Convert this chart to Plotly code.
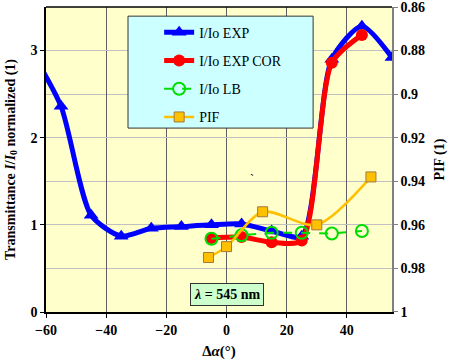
import plotly.graph_objects as go

# ---- data ----
exp_x = [-65, -55, -45, -35, -25, -15, -5, 5, 15, 25, 35, 45, 55]
exp_y = [3.0, 2.36, 1.11, 0.87, 0.96, 0.98, 1.0, 1.01, 0.93, 0.87, 2.9, 3.28, 2.92]

cor_x = [-5, 5, 15, 25, 35, 45]
cor_y = [0.85, 0.86, 0.80, 0.82, 2.86, 3.18]

lb_x = [-5, 5, 15, 25, 35, 45]
lb_y = [0.84, 0.88, 0.91, 0.91, 0.90, 0.93]

pif_x = [-6, 0, 12, 30, 48]
pif_y = [0.975, 0.970, 0.954, 0.960, 0.938]

x_ticks = [-60, -40, -20, 0, 20, 40]
y_ticks = [0, 1, 2, 3]
pif_ticks = [0.86, 0.88, 0.90, 0.92, 0.94, 0.96, 0.98, 1.0]
pif_labels = ["0.86", "0.88", "0.9", "0.92", "0.94", "0.96", "0.98", "1"]

FONT = "Liberation Serif, Times New Roman, serif"

fig = go.Figure()
fig.add_trace(go.Scatter(
    x=exp_x, y=exp_y, name="I/Io EXP", legendgroup="a", mode="lines+markers",
    line=dict(color="#0000FF", width=5, shape="spline", smoothing=0.7),
    marker=dict(symbol="triangle-up", size=13, color="#0000FF"),
))
fig.add_trace(go.Scatter(
    x=cor_x, y=cor_y, name="I/Io EXP COR", legendgroup="b", mode="lines+markers",
    line=dict(color="#FF0000", width=5, shape="spline", smoothing=0.7),
    marker=dict(symbol="circle", size=12, color="#FF0000"),
))
fig.add_trace(go.Scatter(
    x=lb_x, y=lb_y, name="I/Io LB", legendgroup="c", mode="lines+markers",
    line=dict(color="#00DD00", width=2, dash="dash"),
    marker=dict(symbol="circle-open", size=12, color="#00DD00", line=dict(width=2)),
))
fig.add_trace(go.Scatter(
    x=pif_x, y=pif_y, name="PIF", legendgroup="d", mode="lines+markers", yaxis="y2",
    line=dict(color="#FFC000", width=2.5, shape="spline", smoothing=0.8),
    marker=dict(symbol="square", size=10, color="#FFC000", line=dict(color="#A07840", width=1)),
))

fig.update_layout(
    width=449, height=360,
    margin=dict(l=46, r=57, t=7, b=48),
    paper_bgcolor="white",
    plot_bgcolor="#FFFFCC",
    font=dict(family=FONT, size=14, color="black"),
    showlegend=True,
    legend=dict(
        x=0.327, y=0.968, xanchor="left", yanchor="top",
        bgcolor="rgba(0,0,0,0)", borderwidth=0,
        font=dict(family=FONT, size=14, color="black"),
        tracegroupgap=7, traceorder="grouped",
    ),
    xaxis=dict(
        range=[-60, 55], tickvals=x_ticks, showgrid=True, gridcolor="#606060", gridwidth=1,
        zeroline=False, showline=True, linecolor="black", linewidth=1.5, mirror=False,
        ticks="outside", ticklen=4, tickcolor="black", automargin=False,
        tickfont=dict(family=FONT, size=14, weight="bold"),
        title=dict(text="<b>Δ<i>α</i>(°)</b>", font=dict(family=FONT, size=15), standoff=10),
    ),
    yaxis=dict(
        range=[0, 3.5], tickvals=y_ticks, showgrid=True, gridcolor="#C0C0C0", gridwidth=1,
        minor=dict(dtick=0.5, showgrid=True, gridcolor="#C0C0C0", ticks=""),
        zeroline=False, showline=True, linecolor="black", linewidth=1.5,
        ticks="outside", ticklen=4, tickcolor="black", automargin=False,
        tickfont=dict(family=FONT, size=14, weight="bold"),
        title=dict(text="<b>Transmittance <i>I</i>/<i>I</i><sub>0</sub> normalized (1)</b>",
                   font=dict(family=FONT, size=14), standoff=12),
    ),
    yaxis2=dict(
        overlaying="y", side="right", range=[1.00001, 0.85999],
        tickvals=pif_ticks, ticktext=pif_labels, showgrid=False, zeroline=False,
        showline=True, linecolor="#808080", linewidth=1.5, automargin=False,
        ticks="outside", ticklen=4, tickcolor="#808080", ticklabeloverflow="allow",
        tickfont=dict(family=FONT, size=14, weight="bold"),
        title=dict(text="<b>PIF (1)</b>", font=dict(family=FONT, size=14), standoff=10),
    ),
    shapes=[
        # top frame line
        dict(type="line", xref="paper", yref="paper", x0=0, x1=1, y0=1, y1=1,
             line=dict(color="black", width=1.5)),
        # legend background box
        dict(type="rect", xref="paper", yref="paper", x0=0.237, x1=0.772, y0=0.603, y1=0.970,
             fillcolor="#CCFFFF", line=dict(color="#333333", width=1), layer="above"),
    ],
    annotations=[
        dict(x=0, y=0.2, xref="x", yref="y", text="<b><i>λ</i> = 545 nm</b>", showarrow=False,
             bgcolor="#CCFFCC", bordercolor="#333333", borderwidth=1, borderpad=3,
             font=dict(family=FONT, size=14, color="black")),
        dict(x=8.4, y=1.53, xref="x", yref="y", text="`", showarrow=False,
             font=dict(family=FONT, size=12, color="black")),
    ],
)

fig.write_html("out.html")
